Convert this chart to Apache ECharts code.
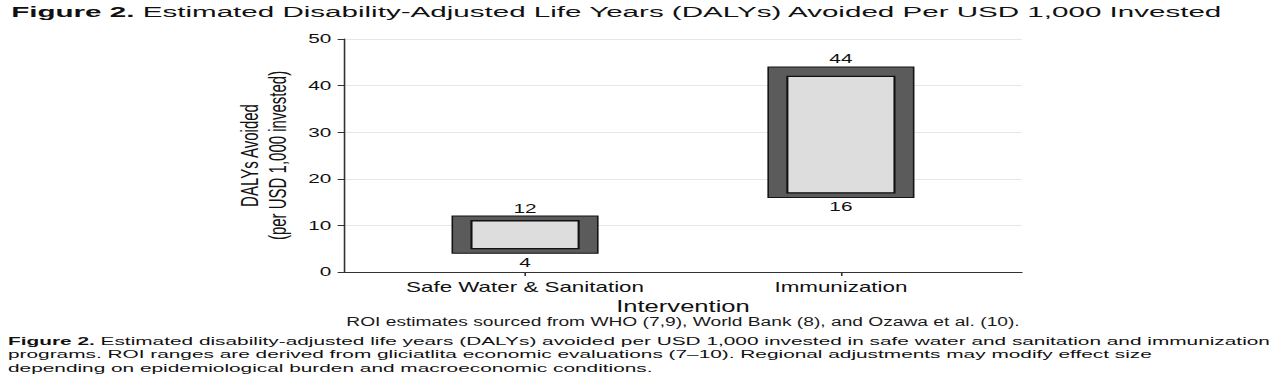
<!DOCTYPE html>
<html>
<head>
<meta charset="utf-8">
<script src="https://cdn.jsdelivr.net/npm/echarts@6/dist/echarts.min.js"></script>
<style>
  html, body { margin: 0; padding: 0; background: #fff; overflow: hidden; }
  #wrap { width: 1279px; height: 374px; overflow: hidden; }
  #chart { width: 800px; height: 374px; transform: scaleX(1.59875); transform-origin: 0 0; }
</style>
</head>
<body>
<div id="wrap"><div id="chart"></div></div>
<script>
// ---- data ----
var categories = ['Safe Water & Sanitation', 'Immunization'];
var rangeLow = [4, 16];        // outer (dark) bar bottom
var rangeHigh = [12, 44];      // outer (dark) bar top
var innerLow = [5, 17];        // inner (light) box bottom
var innerHigh = [11, 42];      // inner (light) box top
var yTicks = [0, 10, 20, 30, 40, 50];

var titleBold = 'Figure 2.';
var titleText = ' Estimated Disability-Adjusted Life Years (DALYs) Avoided Per USD 1,000 Invested';
var yName = 'DALYs Avoided\n(per USD 1,000 invested)';
var xName = 'Intervention';
var sourceNote = 'ROI estimates sourced from WHO (7,9), World Bank (8), and Ozawa et al. (10).';
var captionBold = 'Figure 2.';
var captionLine1 = ' Estimated disability-adjusted life years (DALYs) avoided per USD 1,000 invested in safe water and sanitation and immunization';
var captionLine2 = 'programs. ROI ranges are derived from gliciatlita economic evaluations (7\u201310). Regional adjustments may modify effect size';
var captionLine3 = 'depending on epidemiological burden and macroeconomic conditions.';

var FONT = '"Liberation Sans", Arial, Helvetica, sans-serif';
var seriesData = categories.map(function (c, i) {
  return [i, rangeLow[i], rangeHigh[i], innerLow[i], innerHigh[i]];
});

var OUTER_W = 91;
var INSET = 12;

var chart = echarts.init(document.getElementById('chart'), null, { renderer: 'svg' });
chart.setOption({
  backgroundColor: '#ffffff',
  animation: false,
  textStyle: { fontFamily: FONT },
  grid: { left: 215.2, right: 160.8, top: 39, bottom: 102 },
  xAxis: {
    type: 'value',
    min: -0.573,
    max: 1.573,
    splitLine: { show: false },
    axisLine: { show: true, onZero: false, lineStyle: { color: '#333', width: 1 } },
    axisTick: { show: true, customValues: [0, 1], length: 4, lineStyle: { color: '#333' } },
    axisLabel: {
      customValues: [0, 1],
      formatter: function (v) { return categories[Math.round(v)] || ''; },
      color: '#111', fontSize: 14, margin: 8, fontFamily: FONT
    },
    name: xName,
    nameLocation: 'middle',
    nameGap: 23,
    nameTextStyle: { color: '#111', fontSize: 16, fontFamily: FONT }
  },
  yAxis: {
    type: 'value',
    min: yTicks[0],
    max: yTicks[yTicks.length - 1],
    interval: 10,
    axisLine: { show: true, onZero: false, lineStyle: { color: '#333', width: 1 } },
    axisTick: { show: true, length: 4, lineStyle: { color: '#333' } },
    splitLine: { show: true, lineStyle: { color: '#e6e6e6', width: 1 } },
    axisLabel: { color: '#111', fontSize: 13, margin: 8, fontFamily: FONT },
    name: yName,
    nameLocation: 'middle',
    nameRotate: 90,
    nameGap: 25,
    nameTextStyle: { color: '#111', fontSize: 15, lineHeight: 17, fontFamily: FONT }
  },
  series: [{
    type: 'custom',
    data: seriesData,
    renderItem: function (params, api) {
      var x = api.value(0);
      var oHi = api.coord([x, api.value(2)]);
      var oLo = api.coord([x, api.value(1)]);
      var iHi = api.coord([x, api.value(4)]);
      var iLo = api.coord([x, api.value(3)]);
      var cx = oHi[0];
      return {
        type: 'group',
        children: [
          { type: 'rect', shape: { x: cx - OUTER_W / 2, y: oHi[1], width: OUTER_W, height: oLo[1] - oHi[1] },
            style: { fill: '#5b5b5b', stroke: '#151515', lineWidth: 1 } },
          { type: 'rect', shape: { x: cx - OUTER_W / 2 + INSET, y: iHi[1], width: OUTER_W - 2 * INSET, height: iLo[1] - iHi[1] },
            style: { fill: '#dddddd', stroke: '#111111', lineWidth: 1.3 } },
          { type: 'text', x: cx, y: oHi[1] - 8,
            style: { text: String(api.value(2)), align: 'center', verticalAlign: 'middle', fill: '#111', font: '13px ' + FONT } },
          { type: 'text', x: cx, y: oLo[1] + 9,
            style: { text: String(api.value(1)), align: 'center', verticalAlign: 'middle', fill: '#111', font: '13px ' + FONT } }
        ]
      };
    }
  }],
  graphic: [
    { type: 'text', x: 7, y: 4, scaleX: 1.234,
      style: { text: '{b|' + titleBold + '}{n|' + titleText + '}',
        rich: { b: { fontWeight: 'bold', fontSize: 15, fontFamily: FONT, fill: '#111' },
                n: { fontSize: 15, fontFamily: FONT, fill: '#111' } } } },
    { type: 'text', x: 427.2, y: 322,
      style: { text: sourceNote, align: 'center', verticalAlign: 'middle', fill: '#1a1a1a', font: '12px ' + FONT } },
    { type: 'text', x: 5, y: 334, scaleX: 1.133,
      style: { text: '{b|' + captionBold + '}{n|' + captionLine1 + '}\n{n|' + captionLine2 + '}\n{n|' + captionLine3 + '}',
        rich: { b: { fontWeight: 'bold', fontSize: 11.5, lineHeight: 13.8, fontFamily: FONT, fill: '#111' },
                n: { fontSize: 11.5, lineHeight: 13.8, fontFamily: FONT, fill: '#111' } } } }
  ]
});
</script>
</body>
</html>
